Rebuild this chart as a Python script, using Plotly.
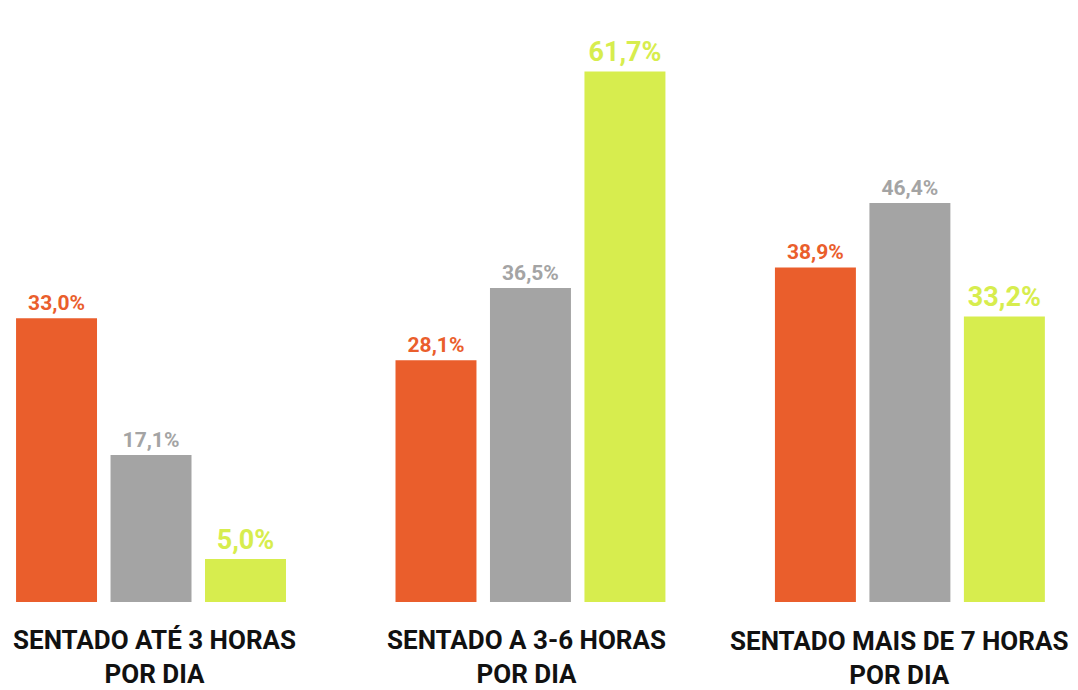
import plotly.graph_objects as go

# Categories (time spent sitting per day)
categorias = [
    "SENTADO ATÉ 3 HORAS<br>POR DIA",
    "SENTADO A 3-6 HORAS<br>POR DIA",
    "SENTADO MAIS DE 7 HORAS<br>POR DIA",
]

# Series values (%)
serie_laranja = [33.0, 28.1, 38.9]
serie_cinza = [17.1, 36.5, 46.4]
serie_verde = [5.0, 61.7, 33.2]

cores = ["#EA5E2C", "#A4A4A4", "#D7ED4E"]
tamanhos_rotulo = [21, 21, 27]


def rotulo(v):
    return f"{v:.1f}".replace(".", ",") + "%"


fig = go.Figure()
for nome, valores, cor, tam in zip(
    ["Série 1", "Série 2", "Série 3"],
    [serie_laranja, serie_cinza, serie_verde],
    cores,
    tamanhos_rotulo,
):
    fig.add_trace(
        go.Bar(
            x=categorias,
            y=valores,
            name=nome,
            marker=dict(color=cor, line=dict(width=0)),
            text=[rotulo(v) for v in valores],
            textposition="outside",
            constraintext="none",
            textfont=dict(family="Roboto", size=tam, color=cor, weight=700),
            cliponaxis=False,
            hoverinfo="skip",
        )
    )

# Category labels drawn beneath each group
deslocamentos = [(3, 0), (-4, 0), (-11, -1)]
for cat, (dx, dy) in zip(categorias, deslocamentos):
    fig.add_annotation(
        x=cat,
        y=0,
        xref="x",
        yref="paper",
        yanchor="top",
        yshift=-21 + dy,
        xshift=dx,
        text=cat,
        showarrow=False,
        font=dict(family="Roboto", size=26, color="#111111", weight=700),
        align="center",
    )

fig.update_layout(
    width=1078,
    height=690,
    margin=dict(l=0, r=0, t=0, b=88),
    paper_bgcolor="white",
    plot_bgcolor="white",
    barmode="group",
    bargap=0.253,
    bargroupgap=0.143,
    showlegend=False,
    xaxis=dict(
        type="category",
        range=[-0.398, 2.443],
        showticklabels=False,
        showgrid=False,
        zeroline=False,
        showline=False,
        ticks="",
    ),
    yaxis=dict(
        range=[0, 70],
        visible=False,
        showgrid=False,
        zeroline=False,
    ),
)

fig.write_html("out.html")
